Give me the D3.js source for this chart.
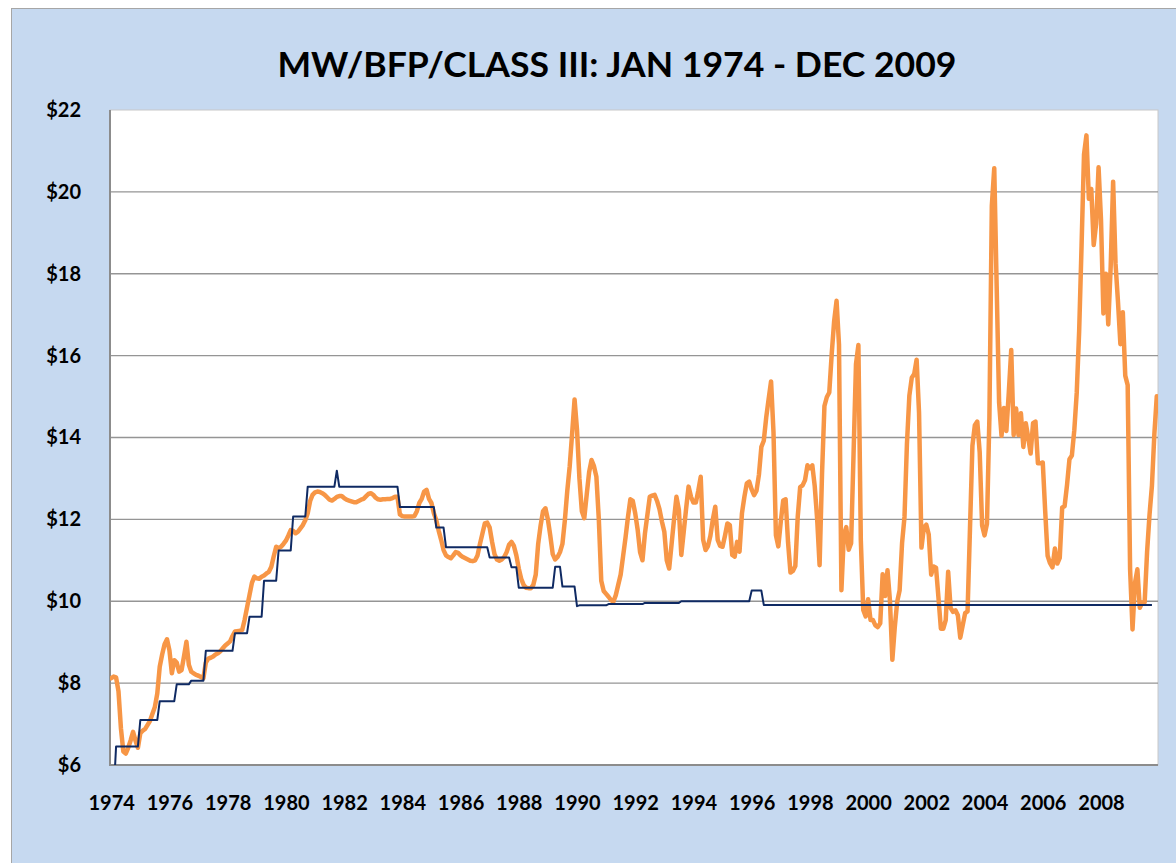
<!DOCTYPE html>
<html>
<head>
<meta charset="utf-8">
<script src="https://cdn.jsdelivr.net/npm/d3@7"></script>
<style>
  html, body { margin: 0; padding: 0; background: #ffffff; }
  svg { display: block; }
  text { font-family: Lato, "Open Sans", "Liberation Sans", sans-serif; font-weight: 700; fill: #000; }
</style>
</head>
<body>
<svg id="chart" width="1176" height="863"></svg>
<script>
// ---------------- DATA ----------------
const chartTitle = "MW/BFP/CLASS III: JAN 1974 - DEC 2009";
const firstYear = 1974;
const xTickYears = [1974, 1976, 1978, 1980, 1982, 1984, 1986, 1988, 1990, 1992, 1994, 1996, 1998, 2000, 2002, 2004, 2006, 2008];
const yTicks = [6, 8, 10, 12, 14, 16, 18, 20, 22];

// Monthly M-W / BFP / Class III price, Jan 1974 - Dec 2009 (one row per year)
const mwBfpClassIII = [
  8.12, 8.16, 8.14, 7.80, 6.90, 6.33, 6.28, 6.42, 6.60, 6.81, 6.60, 6.42,        // 1974
  6.78, 6.84, 6.88, 6.98, 7.08, 7.25, 7.42, 7.75, 8.40, 8.70, 8.95, 9.07,        // 1975
  8.80, 8.24, 8.56, 8.50, 8.28, 8.32, 8.65, 9.01, 8.45, 8.28, 8.24, 8.20,        // 1976
  8.18, 8.15, 8.12, 8.50, 8.60, 8.62, 8.65, 8.70, 8.73, 8.78, 8.85, 8.92,        // 1977
  8.97, 9.02, 9.15, 9.26, 9.27, 9.28, 9.30, 9.55, 9.85, 10.15, 10.45, 10.60,     // 1978
  10.56, 10.55, 10.60, 10.63, 10.68, 10.72, 10.84, 11.10, 11.33, 11.30, 11.33, 11.40, // 1979
  11.48, 11.60, 11.74, 11.72, 11.66, 11.70, 11.78, 11.86, 11.98, 12.15, 12.45, 12.60, // 1980
  12.66, 12.68, 12.67, 12.64, 12.60, 12.54, 12.48, 12.46, 12.50, 12.55, 12.57, 12.57, // 1981
  12.52, 12.48, 12.46, 12.44, 12.42, 12.42, 12.45, 12.48, 12.50, 12.56, 12.62, 12.64, // 1982
  12.60, 12.53, 12.49, 12.48, 12.49, 12.49, 12.50, 12.50, 12.52, 12.55, 12.55, 12.12, // 1983
  12.08, 12.07, 12.07, 12.07, 12.07, 12.08, 12.20, 12.40, 12.50, 12.68, 12.72, 12.50, // 1984
  12.40, 12.15, 11.98, 11.72, 11.50, 11.25, 11.12, 11.08, 11.05, 11.12, 11.20, 11.18, // 1985
  11.12, 11.08, 11.05, 11.02, 10.99, 10.98, 11.00, 11.12, 11.40, 11.65, 11.90, 11.92, // 1986
  11.80, 11.45, 11.15, 11.02, 10.99, 11.02, 11.08, 11.20, 11.38, 11.45, 11.35, 11.12, // 1987
  10.80, 10.55, 10.40, 10.33, 10.32, 10.32, 10.40, 10.65, 11.40, 11.85, 12.20, 12.27, // 1988
  12.00, 11.60, 11.15, 11.02, 11.08, 11.20, 11.40, 11.98, 12.70, 13.30, 14.10, 14.93, // 1989
  14.20, 13.00, 12.20, 12.03, 12.60, 13.15, 13.45, 13.30, 13.04, 12.00, 10.50, 10.25, // 1990
  10.18, 10.11, 10.03, 9.99, 10.15, 10.40, 10.65, 11.10, 11.55, 12.05, 12.49, 12.45,  // 1991
  12.15, 11.75, 11.20, 11.00, 11.65, 12.10, 12.55, 12.58, 12.60, 12.45, 12.25, 11.95, // 1992
  11.70, 11.00, 10.80, 11.40, 12.00, 12.55, 12.23, 11.13, 11.70, 12.27, 12.80, 12.55, // 1993
  12.41, 12.41, 12.70, 13.04, 11.50, 11.25, 11.35, 11.60, 12.00, 12.31, 11.50, 11.35, // 1994
  11.33, 11.60, 11.90, 11.86, 11.13, 11.09, 11.45, 11.21, 12.15, 12.55, 12.88, 12.92, // 1995
  12.73, 12.59, 12.70, 13.09, 13.77, 13.92, 14.49, 14.94, 15.37, 14.13, 11.61, 11.34, // 1996
  11.94, 12.46, 12.49, 11.44, 10.70, 10.74, 10.86, 12.07, 12.79, 12.83, 12.96, 13.32, // 1997
  13.25, 13.32, 12.81, 12.01, 10.88, 13.10, 14.77, 14.99, 15.10, 16.04, 16.84, 17.34, // 1998
  16.27, 10.27, 11.62, 11.81, 11.26, 11.42, 13.59, 15.79, 16.26, 11.49, 9.79, 9.63,   // 1999
  10.05, 9.54, 9.54, 9.41, 9.37, 9.46, 10.66, 10.13, 10.76, 10.02, 8.57, 9.37,        // 2000
  9.99, 10.27, 11.42, 12.06, 13.83, 15.02, 15.46, 15.55, 15.90, 14.60, 11.31, 11.80,  // 2001
  11.87, 11.63, 10.65, 10.85, 10.82, 10.09, 9.33, 9.33, 9.54, 10.72, 9.84, 9.74,      // 2002
  9.78, 9.66, 9.11, 9.41, 9.71, 9.75, 11.78, 13.80, 14.30, 14.39, 13.64, 11.85,       // 2003
  11.61, 11.89, 14.49, 19.66, 20.58, 17.68, 14.85, 14.04, 14.72, 14.16, 15.10, 16.14, // 2004
  14.06, 14.71, 14.06, 14.59, 13.77, 14.35, 14.00, 13.61, 14.35, 14.39, 13.37, 13.37, // 2005
  13.39, 12.20, 11.11, 10.93, 10.83, 11.29, 10.92, 11.06, 12.29, 12.32, 12.84, 13.47, // 2006
  13.56, 14.18, 15.09, 16.60, 18.70, 20.91, 21.38, 19.83, 20.07, 18.70, 19.22, 20.60, // 2007
  19.32, 17.03, 18.00, 16.76, 18.18, 20.25, 18.24, 17.32, 16.28, 17.06, 15.51, 15.28, // 2008
  10.78, 9.31, 10.44, 10.78, 9.84, 9.97, 9.97, 11.20, 12.11, 12.82, 14.08, 15.01      // 2009
];

// Monthly support price (step series), Jan 1974 - Dec 2009
const supportPrice = [
  5.29, 5.29, 6.45, 6.45, 6.45, 6.45, 6.45, 6.45, 6.45, 6.45, 6.45, 6.45,        // 1974
  7.10, 7.10, 7.10, 7.10, 7.10, 7.10, 7.10, 7.10, 7.56, 7.56, 7.56, 7.56,        // 1975
  7.56, 7.56, 7.56, 7.97, 7.97, 7.97, 7.97, 7.97, 7.97, 8.06, 8.06, 8.06,        // 1976
  8.06, 8.06, 8.06, 8.79, 8.79, 8.79, 8.79, 8.79, 8.79, 8.79, 8.79, 8.79,        // 1977
  8.79, 8.79, 8.79, 9.22, 9.22, 9.22, 9.22, 9.22, 9.22, 9.62, 9.62, 9.62,        // 1978
  9.62, 9.62, 9.62, 10.50, 10.50, 10.50, 10.50, 10.50, 10.50, 11.24, 11.24, 11.24, // 1979
  11.24, 11.24, 11.24, 12.07, 12.07, 12.07, 12.07, 12.07, 12.07, 12.80, 12.80, 12.80, // 1980
  12.80, 12.80, 12.80, 12.80, 12.80, 12.80, 12.80, 12.80, 12.80, 13.19, 12.80, 12.80, // 1981
  12.80, 12.80, 12.80, 12.80, 12.80, 12.80, 12.80, 12.80, 12.80, 12.80, 12.80, 12.80, // 1982
  12.80, 12.80, 12.80, 12.80, 12.80, 12.80, 12.80, 12.80, 12.80, 12.80, 12.80, 12.30, // 1983
  12.30, 12.30, 12.30, 12.30, 12.30, 12.30, 12.30, 12.30, 12.30, 12.30, 12.30, 12.30, // 1984
  12.30, 12.30, 11.80, 11.80, 11.80, 11.80, 11.32, 11.32, 11.32, 11.32, 11.32, 11.32, // 1985
  11.32, 11.32, 11.32, 11.32, 11.32, 11.32, 11.32, 11.32, 11.32, 11.32, 11.32, 11.32, // 1986
  11.07, 11.07, 11.07, 11.07, 11.07, 11.07, 11.07, 11.07, 11.07, 10.83, 10.83, 10.83, // 1987
  10.33, 10.33, 10.33, 10.33, 10.33, 10.33, 10.33, 10.33, 10.33, 10.33, 10.33, 10.33, // 1988
  10.33, 10.33, 10.33, 10.84, 10.84, 10.84, 10.36, 10.36, 10.36, 10.36, 10.36, 10.36, // 1989
  9.88, 9.90, 9.90, 9.90, 9.90, 9.90, 9.90, 9.90, 9.90, 9.90, 9.90, 9.90,        // 1990
  9.90, 9.93, 9.93, 9.93, 9.93, 9.93, 9.93, 9.93, 9.93, 9.93, 9.93, 9.93,        // 1991
  9.93, 9.93, 9.93, 9.93, 9.96, 9.96, 9.96, 9.96, 9.96, 9.96, 9.96, 9.96,        // 1992
  9.96, 9.96, 9.96, 9.96, 9.96, 9.96, 9.96, 10.00, 10.00, 10.00, 10.00, 10.00,   // 1993
  10.00, 10.00, 10.00, 10.00, 10.00, 10.00, 10.00, 10.00, 10.00, 10.00, 10.00, 10.00, // 1994
  10.00, 10.00, 10.00, 10.00, 10.00, 10.00, 10.00, 10.00, 10.00, 10.00, 10.00, 10.00, // 1995
  10.26, 10.26, 10.26, 10.26, 10.26, 9.91, 9.91, 9.91, 9.91, 9.91, 9.91, 9.91,   // 1996
  9.91, 9.91, 9.91, 9.91, 9.91, 9.91, 9.91, 9.91, 9.91, 9.91, 9.91, 9.91,        // 1997
  9.91, 9.91, 9.91, 9.91, 9.91, 9.91, 9.91, 9.91, 9.91, 9.91, 9.91, 9.91,        // 1998
  9.91, 9.91, 9.91, 9.91, 9.91, 9.91, 9.91, 9.91, 9.91, 9.91, 9.91, 9.91,        // 1999
  9.91, 9.91, 9.91, 9.91, 9.91, 9.91, 9.91, 9.91, 9.91, 9.91, 9.91, 9.91,        // 2000
  9.91, 9.91, 9.91, 9.91, 9.91, 9.91, 9.91, 9.91, 9.91, 9.91, 9.91, 9.91,        // 2001
  9.91, 9.91, 9.91, 9.91, 9.91, 9.91, 9.91, 9.91, 9.91, 9.91, 9.91, 9.91,        // 2002
  9.91, 9.91, 9.91, 9.91, 9.91, 9.91, 9.91, 9.91, 9.91, 9.91, 9.91, 9.91,        // 2003
  9.91, 9.91, 9.91, 9.91, 9.91, 9.91, 9.91, 9.91, 9.91, 9.91, 9.91, 9.91,        // 2004
  9.91, 9.91, 9.91, 9.91, 9.91, 9.91, 9.91, 9.91, 9.91, 9.91, 9.91, 9.91,        // 2005
  9.91, 9.91, 9.91, 9.91, 9.91, 9.91, 9.91, 9.91, 9.91, 9.91, 9.91, 9.91,        // 2006
  9.91, 9.91, 9.91, 9.91, 9.91, 9.91, 9.91, 9.91, 9.91, 9.91, 9.91, 9.91,        // 2007
  9.91, 9.91, 9.91, 9.91, 9.91, 9.91, 9.91, 9.91, 9.91, 9.91, 9.91, 9.91,        // 2008
  9.91, 9.91, 9.91, 9.91, 9.91, 9.91, 9.91, 9.91, 9.91, 9.91, null, null         // 2009
];

// ---------------- LAYOUT ----------------
const W = 1176, H = 863;
const plot = { left: 110, top: 110, right: 1158, bottom: 765 };

const svg = d3.select("#chart");

// chart area background
svg.append("rect")
  .attr("x", 11.5).attr("y", 8.5)
  .attr("width", W + 50).attr("height", H + 50)
  .attr("fill", "#c6d9f0")
  .attr("stroke", "#a6a6a6").attr("stroke-width", 1);

// title
svg.append("text")
  .attr("x", 617).attr("y", 77)
  .attr("text-anchor", "middle")
  .attr("font-size", 35)
  .attr("textLength", 679)
  .attr("lengthAdjust", "spacingAndGlyphs")
  .text(chartTitle);

// scales
const monthIndex = mwBfpClassIII.map((d, i) => i);
const x = d3.scalePoint()
  .domain(monthIndex)
  .range([plot.left, plot.right])
  .padding(0.5);

const y = d3.scaleLinear()
  .domain([d3.min(yTicks), d3.max(yTicks)])
  .range([plot.bottom, plot.top]);

// plot area
svg.append("rect")
  .attr("x", plot.left).attr("y", plot.top)
  .attr("width", plot.right - plot.left).attr("height", plot.bottom - plot.top)
  .attr("fill", "#ffffff")
  .attr("stroke", "#c8c8c8").attr("stroke-width", 1);

// gridlines
svg.append("g")
  .selectAll("line")
  .data(yTicks.filter(t => t !== d3.min(yTicks) && t !== d3.max(yTicks)))
  .join("line")
  .attr("x1", plot.left).attr("x2", plot.right)
  .attr("y1", d => y(d)).attr("y2", d => y(d))
  .attr("stroke", "#959595").attr("stroke-width", 1.3);

// axes lines
svg.append("line")
  .attr("x1", plot.left).attr("x2", plot.left)
  .attr("y1", plot.top).attr("y2", plot.bottom + 1)
  .attr("stroke", "#8c8c8c").attr("stroke-width", 2);
svg.append("line")
  .attr("x1", plot.left).attr("x2", plot.right)
  .attr("y1", plot.bottom).attr("y2", plot.bottom)
  .attr("stroke", "#8c8c8c").attr("stroke-width", 2);

// y axis labels
const yAxis = svg.append("g")
  .attr("transform", `translate(${plot.left},0)`)
  .call(d3.axisLeft(y).tickValues(yTicks).tickFormat(d => "$" + d).tickSize(0).tickPadding(29));
yAxis.select(".domain").remove();
yAxis.selectAll("text")
  .attr("font-size", 20)
  .style("font-family", "Lato, 'Open Sans', sans-serif")
  .style("font-weight", 700)
  .attr("fill", "#000");

// x axis labels
const xTickIdx = xTickYears.map(yr => (yr - firstYear) * 12);
const xAxis = svg.append("g")
  .attr("transform", `translate(0,${plot.bottom})`)
  .call(d3.axisBottom(x).tickValues(xTickIdx).tickFormat(i => String(firstYear + i / 12)).tickSize(0).tickPadding(31));
xAxis.select(".domain").remove();
xAxis.selectAll("text")
  .attr("font-size", 20)
  .style("font-family", "Lato, 'Open Sans', sans-serif")
  .style("font-weight", 700)
  .attr("fill", "#000");

// clip
svg.append("clipPath").attr("id", "plotClip")
  .append("rect")
  .attr("x", plot.left).attr("y", plot.top)
  .attr("width", plot.right - plot.left).attr("height", plot.bottom - plot.top);

const lines = svg.append("g").attr("clip-path", "url(#plotClip)");

const lineGen = d3.line()
  .defined(d => d != null)
  .x((d, i) => x(i))
  .y(d => y(d));

lines.append("path")
  .datum(mwBfpClassIII)
  .attr("d", lineGen)
  .attr("fill", "none")
  .attr("stroke", "#f79646")
  .attr("stroke-width", 4.5)
  .attr("stroke-linejoin", "round")
  .attr("stroke-linecap", "round");

lines.append("path")
  .datum(supportPrice)
  .attr("d", lineGen)
  .attr("fill", "none")
  .attr("stroke", "#0f2a63")
  .attr("stroke-width", 2)
  .attr("stroke-linejoin", "round");
</script>
</body>
</html>
